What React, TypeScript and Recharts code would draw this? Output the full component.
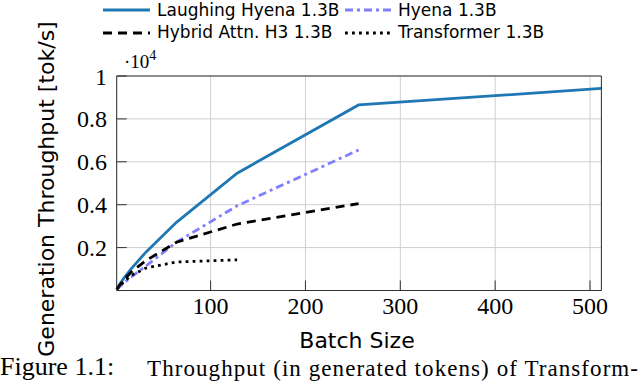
import { CartesianGrid, Line, LineChart, XAxis, YAxis } from 'recharts';

const batchSizes = [1, 2, 4, 8, 16, 32, 64, 128, 256, 512];
const laughingHyena = [70, 140, 280, 540, 1000, 1800, 3180, 5470, 8650, 9420];
const hyena = [40, 80, 160, 320, 620, 1150, 2250, 3950, 6550];
const hybridH3 = [60, 120, 240, 470, 850, 1400, 2250, 3100, 4050];
const transformer = [50, 100, 200, 380, 700, 1050, 1330, 1430];

const xTicks = [100, 200, 300, 400, 500];
const yTicks = [0, 2000, 4000, 6000, 8000, 10000];

const series = [
  { key: 'laughing', name: 'Laughing Hyena 1.3B', color: '#1f77b4', dash: undefined },
  { key: 'hyena', name: 'Hyena 1.3B', color: '#8080ff', dash: '8 4 3 4' },
  { key: 'h3', name: 'Hybrid Attn. H3 1.3B', color: '#000000', dash: '9 6' },
  { key: 'transformer', name: 'Transformer 1.3B', color: '#000000', dash: '2.8 4.2' },
];

const data = batchSizes.map((b, i) => ({
  batch: b,
  laughing: laughingHyena[i],
  hyena: hyena[i],
  h3: hybridH3[i],
  transformer: transformer[i],
}));

const W = 640;
const H = 381;
const frame = '#333333';
const serif = 'Liberation Serif';
const sans = 'DejaVu Sans';

// legend slots: [lineStart, lineEnd, textX, lineY, baseline]
const legendSlots = [
  [103, 150, 157, 10, 15.5],
  [345, 392, 398, 10, 15.5],
  [103, 150, 157, 33, 38],
  [345, 392, 398, 33, 38],
];

interface TickProps {
  x?: number;
  y?: number;
  payload?: { value: number };
}

function XTick({ x, y, payload }: TickProps) {
  return (
    <text x={x} y={y} dy="0.71em" textAnchor="middle" fontFamily={serif} fontSize={24} fill="#000">
      {payload?.value}
    </text>
  );
}

function YTick({ x, y, payload }: TickProps) {
  const v = payload?.value ?? 0;
  if (v === 0) return null;
  return (
    <text x={x} y={y} dy="0.355em" textAnchor="end" fontFamily={serif} fontSize={24} fill="#000">
      {String(v / 10000)}
    </text>
  );
}

function Overlay() {
  return (
    <svg width={W} height={H} style={{ position: 'absolute', left: 0, top: 0, pointerEvents: 'none' }}>
      {series.map((s, i) => {
        const [x1, x2, tx, ly, by] = legendSlots[i];
        return (
          <g key={s.key}>
            <line x1={x1} x2={x2} y1={ly} y2={ly} stroke={s.color} strokeWidth={2.8} strokeDasharray={s.dash} />
            <text x={tx} y={by} fontFamily={sans} fontSize={17} fill="#000">
              {s.name}
            </text>
          </g>
        );
      })}
      <text x={124} y={68} fontFamily={serif} fontSize={19} fill="#000">
        ·10
        <tspan fontSize={14} dy={-8}>
          4
        </tspan>
      </text>
      <text
        transform="translate(54,189) rotate(-90)"
        textAnchor="middle"
        fontFamily={sans}
        fontSize={22}
        fill="#000"
      >
        Generation Throughput [tok/s]
      </text>
      <text x={357} y={348} textAnchor="middle" fontFamily={sans} fontSize={22} fill="#000">
        Batch Size
      </text>
      <text x={0} y={375} fontFamily={serif} fontSize={26} fill="#000">
        Figure 1.1:
      </text>
      <text
        x={147}
        y={375.5}
        fontFamily={serif}
        fontSize={23}
        fill="#000"
        textLength={491}
        lengthAdjust="spacing"
      >
        Throughput (in generated tokens) of Transform-
      </text>
    </svg>
  );
}

export default function App() {
  return (
    <div
      style={{
        position: 'absolute',
        left: 0,
        top: 0,
        width: W,
        height: H,
        background: '#fff',
        overflow: 'hidden',
      }}
    >
      <LineChart width={W} height={H} data={data} margin={{ top: 75, right: 37.6, bottom: 60.5, left: 76.7 }}>
        <CartesianGrid stroke="#cfcfcf" strokeWidth={1} />
        <XAxis
          dataKey="batch"
          type="number"
          domain={[1, 512]}
          ticks={xTicks}
          height={30}
          tickSize={-10}
          tickMargin={16.5}
          axisLine={{ stroke: frame }}
          tickLine={{ stroke: frame }}
          tick={<XTick />}
        />
        <XAxis
          xAxisId="top"
          orientation="top"
          dataKey="batch"
          type="number"
          domain={[1, 512]}
          ticks={xTicks}
          height={1}
          tickSize={-10}
          axisLine={{ stroke: frame }}
          tickLine={{ stroke: frame }}
          tick={false}
        />
        <YAxis
          type="number"
          domain={[0, 10000]}
          ticks={yTicks}
          width={40}
          tickSize={-10}
          tickMargin={19.7}
          axisLine={{ stroke: frame }}
          tickLine={{ stroke: frame }}
          tick={<YTick />}
        />
        <YAxis
          yAxisId="right"
          orientation="right"
          type="number"
          domain={[0, 10000]}
          ticks={yTicks}
          width={1}
          tickSize={-10}
          axisLine={{ stroke: frame }}
          tickLine={{ stroke: frame }}
          tick={false}
        />
        {series.map((s) => (
          <Line
            key={s.key}
            dataKey={s.key}
            name={s.name}
            type="linear"
            stroke={s.color}
            strokeWidth={2.8}
            strokeDasharray={s.dash}
            dot={false}
            activeDot={false}
            isAnimationActive={false}
          />
        ))}
      </LineChart>
      <Overlay />
    </div>
  );
}
